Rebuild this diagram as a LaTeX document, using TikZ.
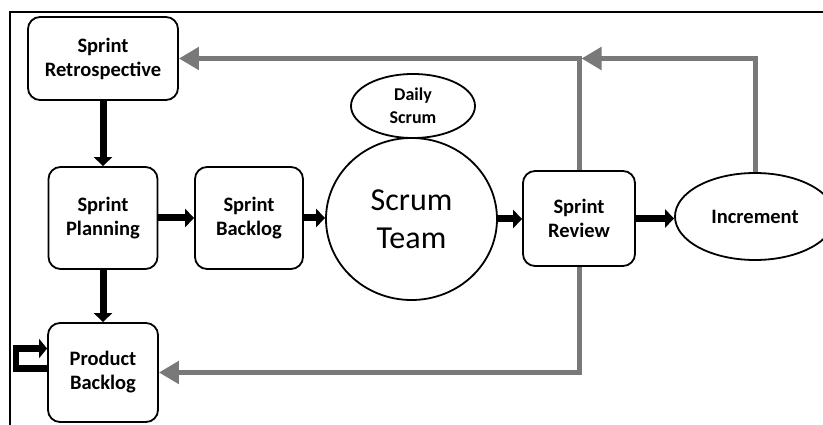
\documentclass[tikz,border=0pt]{standalone}
\usepackage{fontspec}
\setmainfont{Carlito}
\usetikzlibrary{arrows.meta,shapes.geometric}
\begin{document}
\begin{tikzpicture}[x=1pt,y=-1pt,
  box/.style={draw,line width=1.8pt,rounded corners=12pt,align=center,inner sep=0pt,
    font=\fontsize{20.5}{24}\selectfont\bfseries},
  oval/.style={draw,line width=1.8pt,ellipse,align=center,inner sep=0pt},
  blk/.style={line width=7pt,-{Triangle[length=9pt,width=18pt]}},
  gry/.style={line width=5pt,draw=gray!95!black,-{Triangle[length=20pt,width=22pt]}}]
\useasboundingbox (0,0) rectangle (823,425);
\draw[line width=1.6pt] (10,430) -- (10,12) -- (830,12);
\node[box,minimum width=150pt,minimum height=83pt] (retro) at (103,58.5) {Sprint\\Retrospective};
\node[box,minimum width=109pt,minimum height=102pt] (plan) at (103,218) {Sprint\\Planning};
\node[box,minimum width=110pt,minimum height=99pt] (pb) at (103,372.5) {Product\\Backlog};
\node[box,minimum width=108pt,minimum height=102pt] (sb) at (249,218) {Sprint\\Backlog};
\node[oval,minimum width=171pt,minimum height=162pt,font=\fontsize{32}{38}\selectfont] (team) at (411.5,219) {Scrum\\Team};
\node[oval,minimum width=124pt,minimum height=64pt,fill=white,font=\fontsize{18}{23}\selectfont\bfseries] (daily) at (413,106) {Daily\\Scrum};
\node[box,minimum width=112pt,minimum height=95pt] (rev) at (579,218.5) {Sprint\\Review};
\node[oval,minimum width=160pt,minimum height=87pt,font=\fontsize{20.5}{24}\selectfont\bfseries] (inc) at (755,216.5) {Increment};
\draw[gry] (rev.north) |- (retro.east);
\draw[gry] (inc.north) |- ([xshift=2.5pt]rev.north |- retro.east);
\draw[gry] (rev.south) |- (pb.east);
\draw[blk] (retro.south) -- (plan.north);
\draw[blk] (plan.south) -- (pb.north);
\draw[blk] (plan.east) -- (sb.west);
\draw[blk] (sb.east) -- (sb.east -| team.west);
\draw[blk] (team.east) -- (team.east -| rev.west);
\draw[blk] (rev.east) -- (rev.east -| inc.west);
\draw[line width=6.5pt,-{Triangle[length=8pt,width=19pt]}] ([yshift=4pt]pb.west) -- ++(-31,0) |- ([yshift=24pt]pb.west);
\end{tikzpicture}
\end{document}
